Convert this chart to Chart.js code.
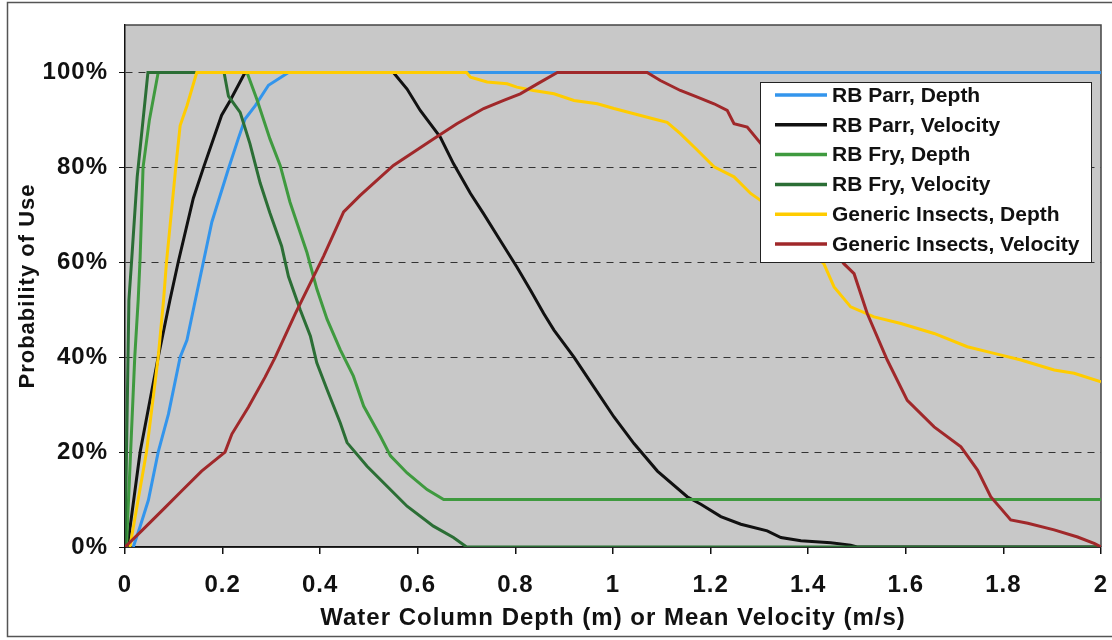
<!DOCTYPE html>
<html>
<head>
<meta charset="utf-8">
<script src="https://cdn.jsdelivr.net/npm/chart.js@4"></script>
<style>
  html, body { margin: 0; padding: 0; background: #fff; }
  #wrap { position: relative; width: 1112px; height: 640px; }
</style>
</head>
<body>
<div id="wrap"><canvas id="chart" width="1112" height="640"></canvas></div>
<script>
// tick labels
const xTickLabels = ['0', '0.2', '0.4', '0.6', '0.8', '1', '1.2', '1.4', '1.6', '1.8', '2'];
const yTickLabels = ['0%', '20%', '40%', '60%', '80%', '100%'];

const seriesNames = ['RB Parr, Depth', 'RB Parr, Velocity', 'RB Fry, Depth', 'RB Fry, Velocity',
    'Generic Insects, Depth', 'Generic Insects, Velocity'];

// RB Parr, Depth
const parrDepthX = [0.017, 0.031, 0.048, 0.068, 0.089, 0.113, 0.127, 0.142, 0.178, 0.212, 0.232, 0.246,
    0.267, 0.294, 0.335, 2];
const parrDepthY = [0, 4.3, 9.9, 20, 28, 40, 43.6, 51, 68.5, 79.7, 86, 90.2, 93, 97.3, 100, 100];

// RB Parr, Velocity
const parrVelX = [0.005, 0.031, 0.068, 0.092, 0.109, 0.14, 0.161, 0.198, 0.215, 0.246, 0.55, 0.578, 0.605,
    0.646, 0.673, 0.708, 0.735, 0.769, 0.803, 0.831, 0.858, 0.879, 0.92, 0.961, 1.002, 1.043, 1.091,
    1.152, 1.18, 1.221, 1.262, 1.316, 1.344, 1.385, 1.446, 1.487, 1.5, 2];
const parrVelY = [0, 20, 40, 52, 60, 73.5, 80, 91, 94, 100, 100, 96.5, 92, 86.4, 80.8, 74.5, 70.2, 64.6,
    59, 54.1, 49.2, 45.7, 40, 33.7, 27.4, 21.8, 16, 10.6, 9, 6.4, 4.8, 3.4, 2, 1.3, 0.9, 0.4, 0, 0];

// RB Fry, Depth
const fryDepthX = [0.003, 0.02, 0.027, 0.031, 0.037, 0.05, 0.068, 0.25, 0.27, 0.297, 0.318, 0.338, 0.373,
    0.393, 0.414, 0.441, 0.468, 0.489, 0.523, 0.544, 0.578, 0.619, 0.653, 2];
const fryDepthY = [0, 40, 52, 61, 80, 90, 100, 100, 94.4, 86, 80.4, 72.7, 62, 54.4, 48, 41.6, 36, 29.7,
    23.4, 19.2, 15.6, 12.1, 10, 10];

// RB Fry, Velocity
const fryVelX = [0, 0.008, 0.014, 0.025, 0.035, 0.047, 0.203, 0.212, 0.236, 0.256, 0.277, 0.297, 0.321,
    0.335, 0.359, 0.38, 0.393, 0.414, 0.441, 0.455, 0.496, 0.537, 0.578, 0.632, 0.673, 0.7, 2];
const fryVelY = [0, 52, 61, 78, 88, 100, 100, 95, 91.6, 85, 76.7, 70.4, 63.4, 57, 50, 44.4, 38.8, 33.2,
    26.2, 22, 17, 12.8, 8.6, 4.4, 2, 0, 0];

// Generic Insects, Depth
const insDepthX = [0.01, 0.044, 0.068, 0.079, 0.085, 0.104, 0.113, 0.127, 0.147, 0.7, 0.708, 0.742, 0.783,
    0.803, 0.837, 0.879, 0.92, 0.968, 1.002, 1.043, 1.084, 1.111, 1.138, 1.173, 1.207, 1.248, 1.282,
    1.303, 1.37, 1.432, 1.453, 1.487, 1.535, 1.59, 1.658, 1.726, 1.781, 1.836, 1.904, 1.945, 2];
const insDepthY = [0, 20, 40, 52, 60, 80, 88.8, 93, 100, 100, 99, 98, 97.6, 96.9, 96.2, 95.5, 94.1, 93.4,
    92.4, 91.3, 90.2, 89.5, 87.1, 83.6, 80.1, 78, 74.5, 73, 66, 59.7, 54.8, 50.6, 48.5, 47.1, 45, 42.2,
    40.8, 39.4, 37.3, 36.6, 34.8];

// Generic Insects, Velocity
const insVelX = [0, 0.034, 0.082, 0.116, 0.157, 0.205, 0.219, 0.253, 0.287, 0.308, 0.349, 0.407, 0.448,
    0.482, 0.55, 0.591, 0.632, 0.68, 0.735, 0.776, 0.81, 0.845, 0.886, 1.07, 1.097, 1.138, 1.173, 1.207,
    1.234, 1.248, 1.275, 1.303, 1.39, 1.473, 1.494, 1.521, 1.562, 1.603, 1.658, 1.713, 1.747, 1.774,
    1.815, 1.85, 1.904, 1.952, 1.987, 2];
const insVelY = [0, 3.4, 8.3, 11.8, 16, 20, 23.8, 29.5, 35.8, 40, 49.2, 61.3, 70.6, 74.1, 80.4, 83.2, 86,
    89.2, 92.4, 94.1, 95.5, 97.6, 100, 100, 98.3, 96.2, 94.8, 93.4, 92, 89.2, 88.5, 85, 72, 59.7, 57.6,
    49.2, 39.4, 30.9, 25.3, 21.1, 16.2, 10.6, 5.7, 5, 3.6, 2.1, 0.7, 0];

const colors = ['#3395ec', '#111111', '#3f9a3f', '#2b6e35', '#ffcc00', '#a0282a'];

function pts(xs, ys) {
    return xs.map((x, i) => ({ x: x, y: ys[i] }));
}

const allX = [parrDepthX, parrVelX, fryDepthX, fryVelX, insDepthX, insVelX];
const allY = [parrDepthY, parrVelY, fryDepthY, fryVelY, insDepthY, insVelY];

const datasets = seriesNames.map((name, i) => ({
    label: name,
    data: pts(allX[i], allY[i]),
    borderColor: colors[i],
    backgroundColor: colors[i],
    borderWidth: 3,
    pointRadius: 0,
    tension: 0,
    fill: false,
    // later series sit on top, as in the original
    order: seriesNames.length - i
}));

const FONT = "'Liberation Sans', Arial, sans-serif";

const framePlugin = {
    id: 'frame',
    beforeDraw(chart) {
        const ctx = chart.ctx;
        const a = chart.chartArea;
        ctx.save();
        ctx.fillStyle = '#c8c8c8';
        ctx.fillRect(a.left, a.top, a.right - a.left, a.bottom - a.top);
        ctx.restore();
        ctx.letterSpacing = '1px';
    },
    beforeDatasetsDraw(chart) {
        const ctx = chart.ctx;
        const a = chart.chartArea;
        ctx.save();
        ctx.strokeStyle = '#444';
        ctx.lineWidth = 1.5;
        ctx.beginPath();
        ctx.moveTo(a.left, a.top);
        ctx.lineTo(a.right, a.top);
        ctx.lineTo(a.right, a.bottom);
        ctx.stroke();
        // solid axis line along the bottom
        ctx.strokeStyle = '#111';
        ctx.beginPath();
        ctx.moveTo(a.left, a.bottom);
        ctx.lineTo(a.right, a.bottom);
        ctx.stroke();
        ctx.restore();
    },
    afterDraw(chart) {
        const ctx = chart.ctx;
        ctx.save();
        ctx.letterSpacing = '0px';
        // legend box
        const bx = 760, by = 82, bw = 331, bh = 180;
        ctx.fillStyle = '#fff';
        ctx.fillRect(bx, by, bw, bh);
        ctx.strokeStyle = '#222';
        ctx.lineWidth = 1;
        ctx.strokeRect(bx + 0.5, by + 0.5, bw, bh);
        ctx.font = 'bold 21px ' + FONT;
        ctx.textBaseline = 'middle';
        ctx.textAlign = 'left';
        chart.data.datasets.forEach((ds, i) => {
            const y = by + 13 + i * 29.8;
            ctx.strokeStyle = ds.borderColor;
            ctx.lineWidth = 3.5;
            ctx.beginPath();
            ctx.moveTo(bx + 15, y);
            ctx.lineTo(bx + 67, y);
            ctx.stroke();
            ctx.fillStyle = '#111';
            ctx.fillText(ds.label, bx + 72, y + 1);
        });
        // outer frame of the figure
        ctx.strokeStyle = '#555';
        ctx.lineWidth = 1.5;
        ctx.strokeRect(7.5, 2.5, 1120, 634);
        ctx.restore();
    }
};

new Chart(document.getElementById('chart'), {
    type: 'line',
    data: { datasets: datasets },
    plugins: [framePlugin],
    options: {
        responsive: false,
        animation: false,
        layout: { padding: { left: 8, right: 11, top: 25, bottom: 6 } },
        plugins: {
            legend: { display: false },
            tooltip: { enabled: false }
        },
        scales: {
            x: {
                type: 'linear',
                min: 0,
                max: 2,
                afterFit(scale) {
                    scale.height = 87;
                    scale.paddingLeft = 0;
                    scale.paddingRight = 0;
                },
                ticks: {
                    stepSize: 0.2,
                    padding: 17,
                    color: '#111',
                    font: { family: FONT, size: 24, weight: 'bold' },
                    maxRotation: 0,
                    callback: (v, i) => xTickLabels[i]
                },
                grid: { drawOnChartArea: false, drawTicks: true, tickLength: 7, color: '#111', lineWidth: 1.5 },
                border: { color: '#111', width: 1.5 },
                title: {
                    display: true,
                    text: 'Water Column Depth (m) or Mean Velocity (m/s)',
                    color: '#111',
                    font: { family: FONT, size: 24, weight: 'bold' },
                    padding: { top: 0, bottom: 1 }
                }
            },
            y: {
                min: 0,
                max: 110,
                afterFit(scale) {
                    scale.width = 117;
                    scale.paddingTop = 0;
                    scale.paddingBottom = 0;
                },
                ticks: {
                    stepSize: 20,
                    includeBounds: false,
                    padding: 11,
                    color: '#111',
                    font: { family: FONT, size: 24, weight: 'bold' },
                    callback: (v, i) => yTickLabels[i]
                },
                grid: {
                    color: (c) => (c.tick && c.tick.value === 0 ? 'rgba(0,0,0,0)' : '#333'),
                    lineWidth: 1,
                    tickLength: 6,
                    tickColor: '#111',
                    tickBorderDash: []
                },
                border: { color: '#111', width: 1.5, dash: [7, 6] },
                title: {
                    display: true,
                    text: 'Probability of Use',
                    color: '#111',
                    font: { family: FONT, size: 22, weight: 'bold' },
                    padding: { top: 7, bottom: 0 }
                }
            }
        }
    }
});
</script>
</body>
</html>
